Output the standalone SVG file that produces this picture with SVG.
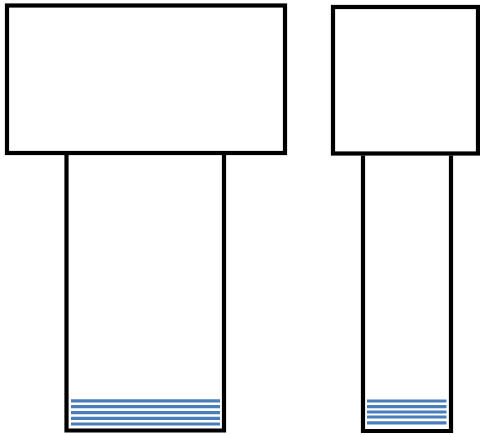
<svg xmlns="http://www.w3.org/2000/svg" width="480" height="435" viewBox="0 0 480 435">
<style>
.box{fill:#ffffff;stroke:#000000;stroke-width:4.2}
.stem{fill:none;stroke:#000000;stroke-width:4.2;stroke-linejoin:miter}
.water{stroke:#4a7ebb;stroke-width:3.2;fill:none}
</style>
<rect width="480" height="435" fill="#ffffff"/>
<g id="left-assembly">
<g id="left-head"><rect class="box" x="7" y="5.5" width="278" height="147.5"/></g>
<g id="left-tube"><path class="stem" d="M66.5,155 V430.5 H224 V155"/></g>
<g id="left-liquid">
<line class="water" x1="71" y1="400.8" x2="220" y2="400.8"/>
<line class="water" x1="71" y1="406.7" x2="220" y2="406.7"/>
<line class="water" x1="71" y1="412.6" x2="220" y2="412.6"/>
<line class="water" x1="71" y1="418.3" x2="220" y2="418.3"/>
<line class="water" x1="71" y1="424" x2="220" y2="424"/>
</g>
</g>
<g id="right-assembly">
<g id="right-head"><rect class="box" x="333" y="7" width="145" height="146.5"/></g>
<g id="right-tube"><path class="stem" d="M363,155.5 V431 H451 V155.5"/></g>
<g id="right-liquid">
<line class="water" x1="367" y1="401" x2="446.5" y2="401"/>
<line class="water" x1="367" y1="406.6" x2="446.5" y2="406.6"/>
<line class="water" x1="367" y1="412" x2="446.5" y2="412"/>
<line class="water" x1="367" y1="417" x2="446.5" y2="417"/>
<line class="water" x1="367" y1="422.8" x2="446.5" y2="422.8"/>
</g>
</g>
</svg>
